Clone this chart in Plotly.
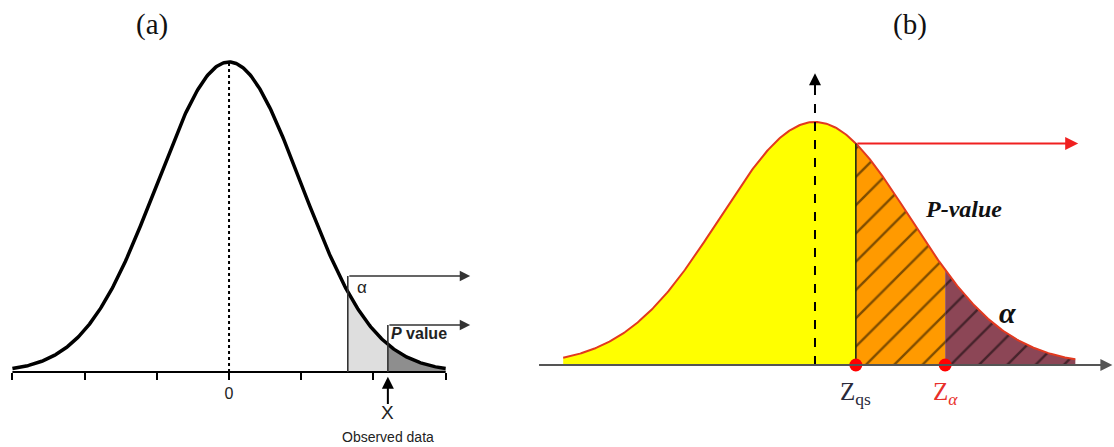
import numpy as np
import plotly.graph_objects as go

# ---------------- data ----------------
# Panel (a): standard normal curve, alpha cut-off and observed statistic
a_curve_range = [-3.0, 3.0]
a_tick_vals = [-3, -2, -1, 0, 1, 2, 3]
a_tick_text = ["", "", "", "0", "", "", ""]
a_alpha_crit = 1.645
a_observed = 2.2

# Panel (b): normal curve, observed statistic Z_qs and critical value Z_alpha
b_curve_range = [-2.65, 2.74]
b_z_qs = 0.43
b_z_alpha = 1.37

labels_titles = ["(a)", "(b)"]


def pdf(z):
    return np.exp(-np.asarray(z) ** 2 / 2) / np.sqrt(2 * np.pi)


def seg(lo, hi, n=200):
    x = np.linspace(lo, hi, n)
    return x, pdf(x)


fig = go.Figure()

# ---------------- panel (a) ----------------
x, y = seg(a_alpha_crit, a_observed)
fig.add_trace(go.Scatter(x=x, y=y, fill="tozeroy", fillcolor="#DEDEDE",
                         line=dict(width=0), mode="lines", xaxis="x", yaxis="y",
                         hoverinfo="skip"))
x, y = seg(a_observed, a_curve_range[1])
fig.add_trace(go.Scatter(x=x, y=y, fill="tozeroy", fillcolor="#8E8E8E",
                         line=dict(width=0), mode="lines", xaxis="x", yaxis="y",
                         hoverinfo="skip"))
# axis line
fig.add_trace(go.Scatter(x=a_curve_range, y=[0, 0], mode="lines",
                         line=dict(color="black", width=2), xaxis="x", yaxis="y",
                         hoverinfo="skip"))
# dotted center line
fig.add_trace(go.Scatter(x=[0, 0], y=[0, pdf(0)], mode="lines",
                         line=dict(color="black", width=2, dash="dot"),
                         xaxis="x", yaxis="y", hoverinfo="skip"))
# bell curve
x, y = seg(*a_curve_range, n=400)
fig.add_trace(go.Scatter(x=x, y=y, mode="lines",
                         line=dict(color="black", width=3.5),
                         xaxis="x", yaxis="y", hoverinfo="skip"))
# vertical box lines
a_alpha_top = 0.1235
a_p_top = 0.0605
fig.add_trace(go.Scatter(x=[a_alpha_crit, a_alpha_crit], y=[0, a_alpha_top],
                         mode="lines", line=dict(color="#333", width=1.6),
                         xaxis="x", yaxis="y", hoverinfo="skip"))
fig.add_trace(go.Scatter(x=[a_observed, a_observed], y=[0, a_p_top],
                         mode="lines", line=dict(color="#333", width=1.6),
                         xaxis="x", yaxis="y", hoverinfo="skip"))

# ---------------- panel (b) ----------------
x, y = seg(b_curve_range[0], b_z_qs)
fig.add_trace(go.Scatter(x=x, y=y, fill="tozeroy", fillcolor="#FFFF00",
                         line=dict(width=0), mode="lines", xaxis="x2", yaxis="y2",
                         hoverinfo="skip"))
x, y = seg(b_z_qs, b_z_alpha)
fig.add_trace(go.Scatter(x=x, y=y, fill="tozeroy", fillcolor="#FF9A00",
                         fillpattern=dict(shape="/", fgcolor="black", bgcolor="#FF9A00",
                                          size=20, solidity=0.12),
                         line=dict(width=0), mode="lines", xaxis="x2", yaxis="y2",
                         hoverinfo="skip"))
x, y = seg(b_z_alpha, b_curve_range[1])
fig.add_trace(go.Scatter(x=x, y=y, fill="tozeroy", fillcolor="#8C4656",
                         fillpattern=dict(shape="/", fgcolor="black", bgcolor="#8C4656",
                                          size=20, solidity=0.12),
                         line=dict(width=0), mode="lines", xaxis="x2", yaxis="y2",
                         hoverinfo="skip"))
# red curve outline
x, y = seg(*b_curve_range, n=400)
fig.add_trace(go.Scatter(x=x, y=y, mode="lines",
                         line=dict(color="#E2391F", width=2),
                         xaxis="x2", yaxis="y2", hoverinfo="skip"))
# vertical edge at Z_qs
fig.add_trace(go.Scatter(x=[b_z_qs, b_z_qs], y=[0, pdf(b_z_qs)], mode="lines",
                         line=dict(color="#1E2A10", width=1.6),
                         xaxis="x2", yaxis="y2", hoverinfo="skip"))
# dashed center line
b_dash_top = 0.47
fig.add_trace(go.Scatter(x=[0, 0], y=[0, b_dash_top], mode="lines",
                         line=dict(color="black", width=2, dash="dash"),
                         xaxis="x2", yaxis="y2", hoverinfo="skip"))
# red points
fig.add_trace(go.Scatter(x=[b_z_qs, b_z_alpha], y=[0, 0], mode="markers",
                         marker=dict(color="#FF0000", size=13),
                         xaxis="x2", yaxis="y2", hoverinfo="skip"))

ann = []
# panel (a) arrows and texts
ann.append(dict(x=3.34, y=a_alpha_top, ax=a_alpha_crit, ay=a_alpha_top, xref="x", yref="y",
                axref="x", ayref="y", text="", showarrow=True, arrowhead=2, arrowsize=1.3,
                arrowwidth=1.6, arrowcolor="#333"))
ann.append(dict(x=3.34, y=a_p_top, ax=a_observed, ay=a_p_top, xref="x", yref="y",
                axref="x", ayref="y", text="", showarrow=True, arrowhead=2, arrowsize=1.3,
                arrowwidth=1.6, arrowcolor="#333"))
ann.append(dict(x=a_observed, y=-0.006, ax=a_observed, ay=-0.043, xref="x", yref="y",
                axref="x", ayref="y", text="", showarrow=True, arrowhead=2, arrowsize=1.2,
                arrowwidth=2, arrowcolor="black"))
ann.append(dict(x=a_alpha_crit + 0.1, y=0.109, xref="x", yref="y", text="α",
                showarrow=False, xanchor="left", yanchor="middle",
                font=dict(family="Liberation Sans", size=17, color="#222")))
ann.append(dict(x=a_observed + 0.01, y=0.049, xref="x", yref="y", text="<b><i>P</i> value</b>",
                showarrow=False, xanchor="left", yanchor="middle",
                font=dict(family="Liberation Sans", size=16, color="#222")))
ann.append(dict(x=a_observed, y=-0.052, xref="x", yref="y", text="X",
                showarrow=False, yanchor="middle",
                font=dict(family="Liberation Sans", size=19, color="#222")))
ann.append(dict(x=a_observed, y=-0.0835, xref="x", yref="y", text="Observed data",
                showarrow=False, yanchor="middle",
                font=dict(family="Liberation Sans", size=14, color="#222")))

# panel (b) axis arrow, dashed arrow head, red arrow, texts
ann.append(dict(x=3.13, y=0, ax=-2.92, ay=0, xref="x2", yref="y2", axref="x2", ayref="y2",
                text="", showarrow=True, arrowhead=2, arrowsize=1.2, arrowwidth=2,
                arrowcolor="#555"))
ann.append(dict(x=0, y=0.479, ax=0, ay=0.45, xref="x2", yref="y2", axref="x2", ayref="y2",
                text="", showarrow=True, arrowhead=2, arrowsize=1.2, arrowwidth=2,
                arrowcolor="black"))
ann.append(dict(x=2.77, y=pdf(b_z_qs), ax=b_z_qs, ay=pdf(b_z_qs), xref="x2", yref="y2",
                axref="x2", ayref="y2", text="", showarrow=True, arrowhead=2, arrowsize=1.3,
                arrowwidth=2, arrowcolor="#F02020"))
ann.append(dict(x=1.56, y=0.256, xref="x2", yref="y2", text="<b><i>P-value</i></b>",
                showarrow=False, yanchor="middle",
                font=dict(family="Liberation Serif", size=24, color="#111")))
ann.append(dict(x=2.03, y=0.0854, xref="x2", yref="y2", text="<b><i>α</i></b>",
                showarrow=False, yanchor="middle",
                font=dict(family="Liberation Serif", size=30, color="#111")))
ann.append(dict(x=b_z_qs, y=-0.047, xref="x2", yref="y2", text="Z<sub>qs</sub>",
                showarrow=False, yanchor="middle",
                font=dict(family="Liberation Serif", size=25, color="#2a2a3a")))
ann.append(dict(x=b_z_alpha, y=-0.047, xref="x2", yref="y2", text="Z<sub><i>α</i></sub>",
                showarrow=False, yanchor="middle",
                font=dict(family="Liberation Serif", size=25, color="#E8302A")))

# titles
ann.append(dict(x=152 / 1114, y=1 - 25 / 447, xref="paper", yref="paper", text=labels_titles[0],
                showarrow=False, xanchor="center", yanchor="middle",
                font=dict(family="Liberation Serif", size=29, color="#111")))
ann.append(dict(x=910 / 1114, y=1 - 25 / 447, xref="paper", yref="paper", text=labels_titles[1],
                showarrow=False, xanchor="center", yanchor="middle",
                font=dict(family="Liberation Serif", size=29, color="#111")))

fig.update_layout(
    width=1114, height=447,
    margin=dict(l=0, r=0, t=0, b=0),
    paper_bgcolor="white", plot_bgcolor="rgba(0,0,0,0)",
    showlegend=False,
    annotations=ann,
    xaxis=dict(domain=[0, 0.45], range=[-3.172, 3.771], anchor="free", position=0.1678,
               showgrid=False, zeroline=False, showline=False,
               tickmode="array", tickvals=a_tick_vals, ticktext=a_tick_text,
               ticks="outside", ticklen=7, tickwidth=2, tickcolor="black",
               tickfont=dict(family="Liberation Sans", size=16, color="#222")),
    yaxis=dict(domain=[0, 1], range=[-0.0965, 0.4787], visible=False),
    xaxis2=dict(domain=[0.47, 1], range=[-3.067, 3.147], anchor="y2", visible=False),
    yaxis2=dict(domain=[0, 1], range=[-0.1346, 0.5992], anchor="x2", visible=False),
)

fig.write_html("out.html", config={"displayModeBar": False},
               post_script="document.body.style.margin='0';")
